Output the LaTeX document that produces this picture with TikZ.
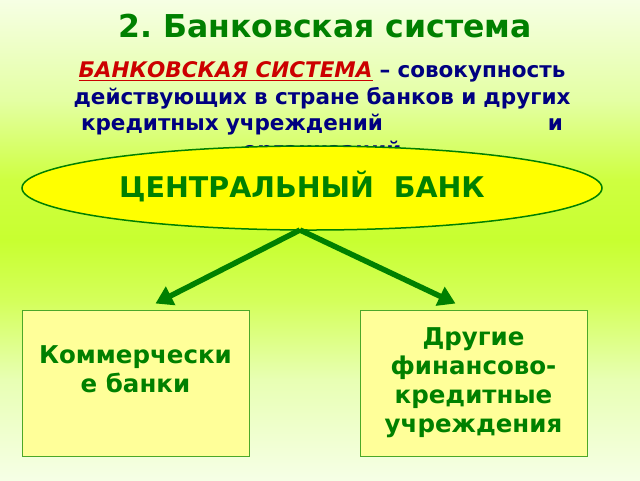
\documentclass[tikz,border=0pt]{standalone}
\usepackage{fontspec}
\setmainfont{DejaVu Sans}
\usetikzlibrary{arrows.meta, positioning, shapes.geometric, calc}
\definecolor{bsgreen}{HTML}{008000}
\definecolor{bsnavy}{HTML}{000080}
\definecolor{bsred}{HTML}{CC0000}
\definecolor{bsyellow}{HTML}{FFFF00}
\definecolor{bspale}{HTML}{FFFF99}
\definecolor{bsedge}{HTML}{4CA828}
\definecolor{bgtop}{HTML}{F6FFE4}
\definecolor{bgupper}{HTML}{E4FFA4}
\definecolor{bghigh}{HTML}{CEFF40}
\definecolor{bgmid}{HTML}{C8FF30}
\definecolor{bglow}{HTML}{D4FF5A}
\definecolor{bglower}{HTML}{E8FFB4}
\definecolor{bgbot}{HTML}{F6FFE6}
\pgfdeclareverticalshading{bsback}{100bp}{color(0bp)=(bgbot); color(25bp)=(bgbot); color(35.4bp)=(bglower); color(43.75bp)=(bglow); color(50bp)=(bgmid); color(56.25bp)=(bghigh); color(64.6bp)=(bgupper); color(75bp)=(bgtop); color(100bp)=(bgtop)}
\frenchspacing

\begin{document}
\begin{tikzpicture}[x=1pt, y=-1pt,
  every node/.style={font=\bfseries},
  orgbox/.style={rectangle, draw=bsedge, fill=bspale, line width=1pt, minimum width=227pt, minimum height=146pt, inner sep=0pt},
  boxtext/.style={text=bsgreen, font=\bfseries\fontsize{24.5}{29}\selectfont, align=center},
  link/.style={-{Triangle[width=20pt,length=17pt]}, bsgreen, line width=5.5pt},
]
\useasboundingbox (0,0) rectangle (640,480);
\shade[shading=bsback] (0,0) rectangle (640,480);
% title and definition
\node[text=bsgreen, font=\bfseries\fontsize{31.5}{36}\selectfont] (title) at (325,26) {2. Банковская система};
\node[text=bsnavy, text width=520pt, align=center, font=\bfseries\fontsize{21.5}{26.5}\selectfont] (defn) at (322,112)
  {{\color{bsred}\itshape\underline{БАНКОВСКАЯ СИСТЕМА}} – совокупность\\
   действующих в стране банков и других\\
   \makebox[482pt]{кредитных учреждений\hfill и}\\
   организаций};
% central bank
\node[ellipse, draw=bsgreen, fill=bsyellow, line width=1.5pt, minimum width=580pt, minimum height=84pt] (cb) at (312,188) {};
\node[text=bsgreen, font=\bfseries\fontsize{28.5}{34}\selectfont] (cbtext) at (302,187) {ЦЕНТРАЛЬНЫЙ\ \ БАНК};
% lower boxes
\node[orgbox] (kb) at (135.5,383) {};
\node[boxtext] (kbtext) at ([yshift=14pt]kb.center) {Коммерчески\\е банки};
\node[orgbox] (fk) at (473.5,383) {};
\node[boxtext] (fktext) at (fk.center) {Другие\\финансово-\\кредитные\\учреждения};
% arrows
\coordinate (split) at (300,230);
\draw[link] (split) -- ([xshift=20pt,yshift=6pt]kb.north);
\draw[link] (split) -- ([xshift=-18pt,yshift=6pt]fk.north);
\end{tikzpicture}
\end{document}
